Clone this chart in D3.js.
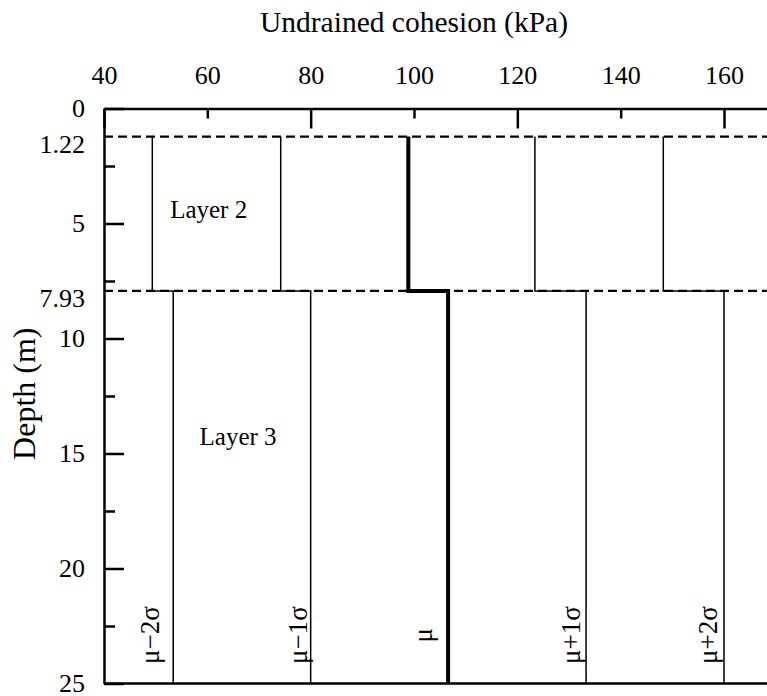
<!DOCTYPE html>
<html>
<head>
<meta charset="utf-8">
<script src="https://cdn.jsdelivr.net/npm/d3@7"></script>
<style>
  html, body { margin: 0; padding: 0; background: #fff; overflow: hidden; }
  svg { display: block; font-family: "Liberation Serif", "Times New Roman", serif; }
  svg text { font-family: "Liberation Serif", "Times New Roman", serif; fill: #000; }
</style>
</head>
<body>
<svg id="chart" width="767" height="696"></svg>
<script>
// Undrained cohesion profile: mean and ±1σ, ±2σ bands for two soil layers
const bandNames = ["μ−2σ", "μ−1σ", "μ", "μ+1σ", "μ+2σ"];
const layer2Cohesion = [49.35, 74.2, 98.9, 123.4, 148.25];   // kPa, Layer 2
const layer3Cohesion = [53.4, 80.0, 106.6, 133.3, 160.0];    // kPa, Layer 3
const layerBoundaries = [1.22, 7.93];                          // m
const bottomDepth = 25;                                        // m
const layerNames = ["Layer 2", "Layer 3"];
const xTickValues = [40, 60, 80, 100, 120, 140, 160];
const yTickValues = [0, 2.5, 5, 7.5, 10, 12.5, 15, 17.5, 20, 22.5, 25];
const yLabelValues = [0, 5, 10, 15, 20, 25];

const svg = d3.select("#chart");

const x = d3.scaleLinear().domain([40, 180]).range([104, 104 + 140 * 5.1667]);
const y = d3.scaleLinear().domain([0, bottomDepth]).range([108.5, 683.5]);

const axisW = 2.5;

// Layer boundaries (dashed)
svg.append("g").selectAll("line").data(layerBoundaries).join("line")
  .attr("x1", x(40)).attr("x2", x(180))
  .attr("y1", d => y(d)).attr("y2", d => y(d))
  .attr("stroke", "#000").attr("stroke-width", 2.2)
  .attr("stroke-dasharray", "9,5");

// Step profiles for each band
const line = d3.line().x(d => x(d[0])).y(d => y(d[1]));
const profiles = bandNames.map((name, i) => ({
  name,
  pts: [
    [layer2Cohesion[i], layerBoundaries[0]],
    [layer2Cohesion[i], layerBoundaries[1]],
    [layer3Cohesion[i], layerBoundaries[1]],
    [layer3Cohesion[i], bottomDepth]
  ]
}));
svg.append("g").selectAll("path").data(profiles).join("path")
  .attr("d", d => line(d.pts))
  .attr("fill", "none")
  .attr("stroke", "#000")
  .attr("stroke-width", d => d.name === "μ" ? 4 : 1.5);

// Band labels (rotated), placed just left of the Layer 3 line
const labelCohesion = [50.7, 79.3, 103.5, 132.2, 158.6];
svg.append("g").selectAll("text").data(bandNames).join("text")
  .attr("transform", (d, i) => `translate(${x(labelCohesion[i])},${y(22.9)}) rotate(-90)`)
  .attr("text-anchor", "middle")
  .style("font-size", "27px")
  .text(d => d);

// Layer labels
const layerLabelPos = [[52.8, 4.78], [58.5, 14.65]];
svg.append("g").selectAll("text").data(layerNames).join("text")
  .attr("x", (d, i) => x(layerLabelPos[i][0]))
  .attr("y", (d, i) => y(layerLabelPos[i][1]))
  .style("font-size", "25px")
  .text(d => d);

// Top axis
const gx = svg.append("g").attr("transform", `translate(0,${y(0)})`)
  .call(d3.axisTop(x).tickValues(xTickValues).tickSizeInner(-20).tickSizeOuter(0).tickPadding(25));
gx.select(".domain").attr("stroke-width", axisW);
gx.selectAll(".tick line").attr("stroke-width", axisW)
  .attr("y2", d => (d % 40 === 0 ? 20 : 10));
gx.selectAll(".tick text").style("font-size", "26px");

// Left axis
const gy = svg.append("g").attr("transform", `translate(${x(40)},0)`)
  .call(d3.axisLeft(y).tickValues(yTickValues).tickSizeInner(-20).tickSizeOuter(0).tickPadding(19)
    .tickFormat(d => yLabelValues.includes(d) ? d3.format("d")(d) : ""));
gy.select(".domain").attr("stroke-width", axisW);
gy.selectAll(".tick line").attr("stroke-width", axisW)
  .attr("x2", d => (d % 5 === 0 ? 20 : 11));
gy.selectAll(".tick text").style("font-size", "26px").attr("dy", "0.32em");

// Labels for the layer boundary depths
svg.append("g").selectAll("text").data(layerBoundaries).join("text")
  .attr("x", x(40) - 19)
  .attr("y", d => y(d) + 16)
  .attr("text-anchor", "end")
  .style("font-size", "26px")
  .text(d => d3.format(".2f")(d));

// Bottom frame line
svg.append("line")
  .attr("x1", x(40)).attr("x2", x(180))
  .attr("y1", y(bottomDepth)).attr("y2", y(bottomDepth))
  .attr("stroke", "#000").attr("stroke-width", axisW);

// Axis titles
svg.append("text")
  .attr("x", x(100)).attr("y", 32)
  .attr("text-anchor", "middle")
  .style("font-size", "29.5px")
  .text("Undrained cohesion (kPa)");

svg.append("text")
  .attr("transform", `translate(35,${y(12.4)}) rotate(-90)`)
  .attr("text-anchor", "middle")
  .style("font-size", "32px")
  .text("Depth (m)");
</script>
</body>
</html>
